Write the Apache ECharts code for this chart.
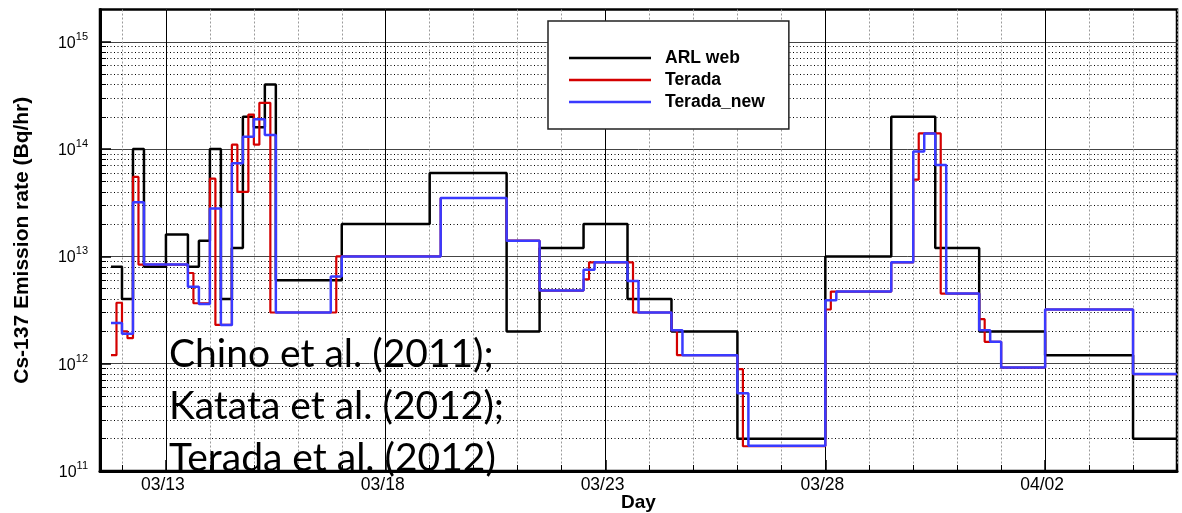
<!DOCTYPE html>
<html>
<head>
<meta charset="utf-8">
<script src="https://cdn.jsdelivr.net/npm/echarts@6/dist/echarts.min.js"></script>
<style>
html, body { margin: 0; padding: 0; background: #fff; }
#c { width: 1182px; height: 513px; }
</style>
</head>
<body>
<div id="c"></div>
<script>
// ---- Data (x = day of March 2011; 04/02 = day 33). Each value holds from its start day to the next start day.
const arlDays = [11.75, 12.0, 12.25, 12.5, 13.0, 13.5, 13.75, 14.0, 14.25, 14.5, 14.75, 15.0, 15.25, 15.5,
  17.0, 19.0, 20.75, 21.5, 22.5, 23.5, 24.5, 26.0, 28.0, 29.5, 30.5, 31.5, 33.0, 35.0, 36.0];
const arlValues = [8e12, 4e12, 1e14, 8e12, 1.6e13, 8e12, 1.4e13, 1e14, 4e12, 1.2e13, 2e14, 1.6e14, 4e14, 6e12,
  2e13, 6e13, 2e12, 1.2e13, 2e13, 4e12, 2e12, 2e11, 1e13, 2e14, 1.2e13, 2e12, 1.2e12, 2e11];

const teradaDays = [11.75, 11.875, 12.0, 12.125, 12.25, 12.375, 13.5, 13.625, 14.0, 14.125, 14.5, 14.625, 14.875,
  15.0, 15.125, 15.375, 16.875, 19.25, 20.75, 21.5, 22.5, 22.625, 23.625, 24.5, 24.625, 26.0, 26.125, 28.0,
  28.125, 29.5, 30.0, 30.125, 30.625, 31.5, 31.625, 32.0, 33.0, 35.0, 36.0];
const teradaValues = [1.2e12, 3.7e12, 2.0e12, 1.73e12, 5.5e13, 8.4e12, 7e12, 3.66e12, 5.3e13, 2.3e12, 1.1e14, 4e13, 2.1e14,
  1.1e14, 2.7e14, 3e12, 1e13, 3.5e13, 1.4e13, 4.8e12, 6.1e12, 8.8e12, 3e12, 2.05e12, 1.2e12, 8.9e11, 1.7e11, 3.2e12,
  4.7e12, 8.8e12, 5.2e13, 1.4e14, 4.5e12, 2.6e12, 1.6e12, 9.2e11, 3.2e12, 8e11];

const teradaNewDays = [11.75, 12.0, 12.25, 12.5, 13.5, 13.75, 14.0, 14.25, 14.5, 14.75, 15.0, 15.25, 15.5, 16.75,
  17.0, 19.25, 20.75, 21.5, 22.5, 22.75, 23.5, 23.75, 24.5, 24.75, 26.0, 26.25, 28.0, 28.25, 29.5, 30.0, 30.25,
  30.5, 30.75, 31.5, 31.75, 32.0, 33.0, 35.0, 36.0];
const teradaNewValues = [2.4e12, 1.9e12, 3.2e13, 8.4e12, 5.2e12, 3.6e12, 2.8e13, 2.3e12, 7.4e13, 1.3e14, 1.9e14, 1.35e14, 3e12, 6.5e12,
  1e13, 3.5e13, 1.4e13, 4.8e12, 7.5e12, 8.8e12, 5.9e12, 3e12, 2.05e12, 1.2e12, 5.3e11, 1.72e11, 3.9e12, 4.7e12, 8.8e12, 9.5e13, 1.4e14,
  7.1e13, 4.5e12, 2.05e12, 1.6e12, 9.2e11, 3.2e12, 8e11];

const seriesNames = ['ARL web', 'Terada', 'Terada_new'];
const majorDayTicks = [13, 18, 23, 28, 33];
const minorDayTicks = [12, 13, 14, 15, 16, 17, 18, 19, 20, 21, 22, 23, 24, 25, 26, 27, 28, 29, 30, 31, 32, 33, 34, 35, 36];
const yMajorTicks = [1e11, 1e12, 1e13, 1e14, 1e15];
const yMinorMultipliers = [2, 3, 4, 5, 6, 7, 8, 9];
const annotationLines = ['Chino et al. (2011);', 'Katata et al. (2012);', 'Terada et al. (2012)'];
const xRange = [11.5, 36];
const yRange = [1e11, 2e15];

// ---- helpers
function stepData(days, values) {
  const d = values.map((v, i) => [days[i], v]);
  d.push([days[days.length - 1], values[values.length - 1]]);
  return d;
}
function dayLabel(d) {
  const m = d > 31 ? 4 : 3;
  const dd = d > 31 ? d - 31 : d;
  return '0' + m + '/' + String(dd).padStart(2, '0');
}
const yMinorTicks = [];
for (let i = 0; i < yMajorTicks.length - 1; i++) {
  yMinorMultipliers.forEach(k => yMinorTicks.push(k * yMajorTicks[i]));
}

const FONT = '"Liberation Sans", Arial, Helvetica, sans-serif';
const chart = echarts.init(document.getElementById('c'), null, { renderer: 'canvas' });

const option = {
  animation: false,
  backgroundColor: '#fff',
  grid: { left: 100, right: 5, top: 9.5, bottom: 42, containLabel: false, outerBoundsMode: 'none',
    show: true, borderColor: '#000', borderWidth: 2.5, backgroundColor: 'transparent' },
  legend: {
    data: seriesNames,
    orient: 'vertical',
    left: 548, top: 21,
    padding: [28, 24, 18, 21],
    icon: 'rect',
    itemWidth: 82, itemHeight: 2.5, itemGap: 4,
    backgroundColor: '#fff', borderColor: '#222', borderWidth: 1.5,
    textStyle: { fontFamily: FONT, fontWeight: 'bold', fontSize: 17.5, color: '#000', padding: [0, 0, 0, 9] },
    z: 10
  },
  xAxis: [
    {
      type: 'value', min: xRange[0], max: xRange[1], position: 'bottom',
      axisLine: { show: true, onZero: false, lineStyle: { color: '#000', width: 3 } },
      axisTick: { show: true, inside: true, length: 6, customValues: minorDayTicks, lineStyle: { color: '#000', width: 1 } },
      axisLabel: { show: false },
      splitLine: { show: true, lineStyle: { color: '#9a9a9a', type: [2, 2], width: 1 } }
    },
    {
      type: 'value', min: xRange[0], max: xRange[1], position: 'bottom',
      axisLine: { show: false, onZero: false },
      axisTick: { show: true, inside: true, length: 11, customValues: majorDayTicks, lineStyle: { color: '#000', width: 1.5 } },
      axisLabel: { customValues: majorDayTicks, formatter: dayLabel, fontSize: 17.5, color: '#000', fontFamily: FONT, margin: 5, padding: [0, 6, 0, 0] },
      splitLine: { show: true, lineStyle: { color: '#000', width: 1 } },
      name: 'Day', nameLocation: 'middle', nameGap: 22, nameMoveOverlap: false,
      nameTextStyle: { fontWeight: 'bold', fontSize: 19, color: '#000', fontFamily: FONT }
    }
  ],
  yAxis: [
    {
      type: 'log', logBase: 10, min: yRange[0], max: yRange[1], position: 'left',
      axisLine: { show: true, onZero: false, lineStyle: { color: '#000', width: 3 } },
      axisTick: { show: true, inside: true, length: 11, customValues: yMajorTicks, lineStyle: { color: '#000', width: 1.5 } },
      axisLabel: {
        customValues: yMajorTicks, margin: 12, padding: [3, 0, 0, 0],
        formatter: v => '{b|10}{s|' + Math.round(Math.log10(v)) + '}',
        rich: {
          b: { fontSize: 16, lineHeight: 24, fontFamily: FONT, color: '#000' },
          s: { fontSize: 11, lineHeight: 10, verticalAlign: 'top', fontFamily: FONT, color: '#000' }
        }
      },
      splitLine: { show: true, lineStyle: { color: '#444', width: 1 } },
      name: 'Cs-137 Emission rate (Bq/hr)', nameLocation: 'middle', nameGap: 67, nameMoveOverlap: false,
      nameTextStyle: { fontWeight: 'bold', fontSize: 21, color: '#000', fontFamily: FONT }
    },
    {
      type: 'log', logBase: 10, min: yRange[0], max: yRange[1], position: 'left',
      axisLine: { show: false, onZero: false },
      axisTick: { show: true, inside: true, length: 6, customValues: yMinorTicks, lineStyle: { color: '#000', width: 1 } },
      axisLabel: { show: false },
      splitLine: { show: true, lineStyle: { color: '#000', type: [1, 2.5], width: 1 } }
    }
  ],
  series: [
    { name: seriesNames[0], type: 'line', step: 'end', symbol: 'none', data: stepData(arlDays, arlValues),
      lineStyle: { color: '#000', width: 2.5 }, itemStyle: { color: '#000' }, z: 3 },
    { name: seriesNames[1], type: 'line', step: 'end', symbol: 'none', data: stepData(teradaDays, teradaValues),
      lineStyle: { color: '#d40000', width: 2.2 }, itemStyle: { color: '#d40000' }, z: 4 },
    { name: seriesNames[2], type: 'line', step: 'end', symbol: 'none', data: stepData(teradaNewDays, teradaNewValues),
      lineStyle: { color: '#3a3aff', width: 2.5 }, itemStyle: { color: '#3a3aff' }, z: 5 }
  ],
  graphic: [
    { type: 'text', left: 169, top: 328, z: 100, silent: true,
      style: { text: annotationLines.join('\n'), fontFamily: 'Lato', fontSize: 39, lineHeight: 52, fill: '#000' } }
  ]
};
chart.setOption(option);
</script>
</body>
</html>
